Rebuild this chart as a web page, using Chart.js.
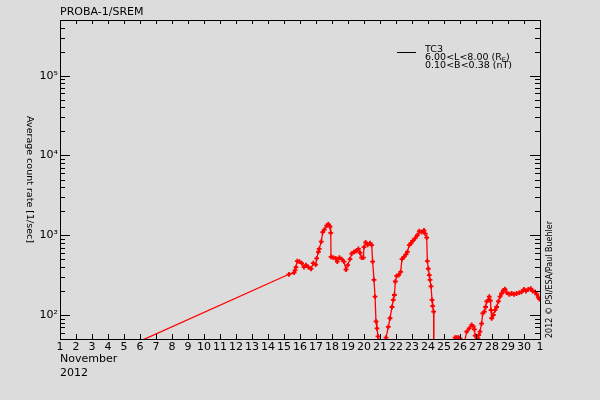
<!DOCTYPE html>
<html>
<head>
<meta charset="utf-8">
<script src="https://cdn.jsdelivr.net/npm/chart.js@4/dist/chart.umd.min.js"></script>
<style>
  html, body { margin: 0; padding: 0; background: #dcdcdc; }
  #wrap { width: 600px; height: 400px; }
</style>
</head>
<body>
<div id="wrap"><canvas id="sremChart" width="600" height="400"></canvas></div>
<script>
// day of month (November 2012, fractional) and average count rate [1/sec], channel TC3
var days = [6.0, 15.31, 15.63, 15.69, 15.75, 15.83, 15.96, 16.1, 16.25, 16.375, 16.52, 16.69, 16.83, 16.98,
    17.04, 17.15, 17.2, 17.33, 17.42, 17.52, 17.67, 17.77, 17.875, 17.92, 17.94, 18.08, 18.23, 18.33,
    18.46, 18.6, 18.75, 18.875, 18.98, 19.125, 19.23, 19.375, 19.5, 19.65, 19.75, 19.85, 19.96, 20.0,
    20.1, 20.23, 20.375, 20.48, 20.54, 20.625, 20.69, 20.75, 20.81, 20.875, 20.92, 21.25, 21.375, 21.52,
    21.625, 21.75, 21.83, 21.9, 21.96, 22.04, 22.17, 22.29, 22.375, 22.5, 22.625, 22.71, 22.83, 22.94,
    23.04, 23.19, 23.33, 23.46, 23.6, 23.75, 23.83, 23.92, 23.96, 24.02, 24.08, 24.125, 24.19, 24.25,
    24.29, 24.35, 24.37, 25.6, 25.69, 25.8, 25.9, 26.0, 26.05, 26.2, 26.42, 26.58, 26.73, 26.83, 26.9,
    26.95, 27.02, 27.12, 27.17, 27.25, 27.35, 27.42, 27.52, 27.6, 27.67, 27.77, 27.83, 27.9, 27.94,
    27.98, 28.08, 28.19, 28.29, 28.4, 28.5, 28.6, 28.71, 28.81, 28.92, 29.08, 29.23, 29.375, 29.54,
    29.71, 29.85, 30.0, 30.125, 30.27, 30.42, 30.54, 30.69, 30.79, 30.9, 30.96];
var rate = [47, 324, 340, 363, 398, 473, 468, 447, 398, 422, 398, 380, 447, 427,
    513, 617, 676, 832, 1096, 1175, 1318, 1380, 1288, 1072, 537, 525, 513, 468,
    525, 501, 468, 372, 422, 501, 589, 617, 631, 676, 603, 525, 525, 708,
    813, 759, 794, 750, 468, 275, 170, 83, 68, 54, 35, 38, 52, 71,
    91, 126, 155, 178, 263, 309, 316, 347, 501, 537, 575, 617, 750, 794,
    851, 912, 1000, 1122, 1096, 1148, 1047, 933, 473, 380, 316, 275, 229, 155,
    129, 110, 5, 40, 52, 52, 52, 51, 35, 38, 62, 68, 75, 72, 66,
    55, 38, 51, 56, 62, 78, 105, 110, 126, 148, 155, 170, 151, 115,
    91, 100, 115, 126, 148, 170, 186, 204, 211, 191, 182, 186, 182, 186,
    191, 195, 209, 200, 209, 214, 200, 195, 182, 166, 158];

var xTickLabels = ['1', '2', '3', '4', '5', '6', '7', '8', '9', '10', '11', '12', '13', '14', '15',
    '16', '17', '18', '19', '20', '21', '22', '23', '24', '25', '26', '27', '28', '29', '30', '1'];
var yDecades = [100, 1000, 10000, 100000];
var yTickLabels = ['10²', '10³', '10⁴', '10⁵'];

var fontFamily = "'DejaVu Sans', sans-serif";

var points = days.map(function (d, i) { return { x: d, y: rate[i] }; });

// all log ticks (2..9 x decade) inside the axis range
function logTickValues(min, max) {
    var vals = [];
    for (var e = Math.floor(Math.log10(min)); e <= Math.ceil(Math.log10(max)); e++) {
        for (var s = 1; s <= 9; s++) {
            var v = s * Math.pow(10, e);
            if (v >= min && v <= max) vals.push(v);
        }
    }
    return vals;
}

var frameAndText = {
    id: 'frameAndText',
    beforeDraw: function (chart) {
        var ctx = chart.ctx;
        ctx.save();
        ctx.fillStyle = '#dcdcdc';
        ctx.fillRect(0, 0, chart.width, chart.height);
        ctx.restore();
    },
    afterDraw: function (chart) {
        var ctx = chart.ctx;
        var a = chart.chartArea;
        var xs = chart.scales.x, ys = chart.scales.y;
        ctx.save();
        ctx.strokeStyle = '#000';
        ctx.lineWidth = 1;
        ctx.strokeRect(Math.round(a.left) + 0.5, Math.round(a.top) + 0.5,
            Math.round(a.right - a.left), Math.round(a.bottom - a.top));

        // inward ticks, bottom and top
        ctx.beginPath();
        xs.ticks.forEach(function (t) {
            var px = Math.round(xs.getPixelForValue(t.value)) + 0.5;
            ctx.moveTo(px, a.bottom); ctx.lineTo(px, a.bottom - 5);
            ctx.moveTo(px, a.top); ctx.lineTo(px, a.top + 4);
        });
        // inward ticks, left and right
        ys.ticks.forEach(function (t) {
            var major = yDecades.indexOf(t.value) >= 0;
            var len = major ? 10 : 5;
            var py = Math.round(ys.getPixelForValue(t.value)) + 0.5;
            ctx.moveTo(a.left, py); ctx.lineTo(a.left + len, py);
            ctx.moveTo(a.right, py); ctx.lineTo(a.right - len, py);
        });
        ctx.stroke();

        ctx.fillStyle = '#000';
        ctx.textBaseline = 'alphabetic';

        // title
        ctx.font = '11px ' + fontFamily;
        ctx.textAlign = 'left';
        ctx.fillText('PROBA-1/SREM', a.left, 15);

        // date caption under the x axis
        ctx.fillText('November', a.left, 362);
        ctx.fillText('2012', a.left, 376);

        // y axis title, reading top to bottom
        ctx.save();
        ctx.translate(27, (a.top + a.bottom) / 2);
        ctx.rotate(Math.PI / 2);
        ctx.textAlign = 'center';
        ctx.font = '9.5px ' + fontFamily;
        ctx.fillText('Average count rate [1/sec]', 0, 0);
        ctx.restore();

        // credit on the right, reading bottom to top
        ctx.save();
        ctx.translate(552, a.bottom - 1);
        ctx.rotate(-Math.PI / 2);
        ctx.textAlign = 'left';
        ctx.font = '8px ' + fontFamily;
        ctx.fillText('2012 © PSI/ESA/Paul Buehler', 0, 0);
        ctx.restore();

        // legend
        ctx.beginPath();
        ctx.moveTo(397, 52.5); ctx.lineTo(416, 52.5);
        ctx.stroke();
        ctx.font = '9.5px ' + fontFamily;
        ctx.textAlign = 'left';
        ctx.fillText('TC3', 425, 52);
        var l2 = '6.00<L<8.00 (R';
        ctx.fillText(l2, 425, 60);
        var w2 = ctx.measureText(l2).width;
        ctx.font = '6.5px ' + fontFamily;
        ctx.fillText('E', 425 + w2, 62);
        var we = ctx.measureText('E').width;
        ctx.font = '9.5px ' + fontFamily;
        ctx.fillText(')', 425 + w2 + we, 60);
        ctx.fillText('0.10<B<0.38 (nT)', 425, 68);
        ctx.restore();
    }
};

new Chart(document.getElementById('sremChart').getContext('2d'), {
    type: 'line',
    data: {
        datasets: [{
            data: points,
            borderColor: '#ff0000',
            borderWidth: 1.3,
            pointStyle: 'cross',
            pointRadius: 2.4,
            pointBorderWidth: 1.8,
            pointBorderColor: '#ff0000',
            pointBackgroundColor: '#ff0000',
            tension: 0,
            clip: 0
        }]
    },
    options: {
        responsive: false,
        animation: false,
        devicePixelRatio: 1,
        layout: { padding: { top: 20, right: 60, left: 0, bottom: 0 } },
        plugins: {
            legend: { display: false },
            tooltip: { enabled: false },
            title: { display: false }
        },
        scales: {
            x: {
                type: 'linear',
                min: 1,
                max: 31,
                afterBuildTicks: function (scale) {
                    scale.ticks = xTickLabels.map(function (l, i) { return { value: i + 1 }; });
                },
                afterFit: function (scale) { scale.height = 61; },
                ticks: {
                    autoSkip: false,
                    maxRotation: 0,
                    padding: 2,
                    color: '#000',
                    font: { family: fontFamily, size: 11 },
                    callback: function (v, i) { return xTickLabels[i]; }
                },
                grid: { display: false, drawTicks: false },
                border: { display: false }
            },
            y: {
                type: 'logarithmic',
                min: 50,
                max: 500000,
                afterBuildTicks: function (scale) {
                    scale.ticks = logTickValues(50, 500000).map(function (v) { return { value: v }; });
                },
                afterFit: function (scale) { scale.width = 60; },
                ticks: {
                    autoSkip: false,
                    padding: 2,
                    color: '#000',
                    font: { family: fontFamily, size: 11 },
                    callback: function (v) {
                        var k = yDecades.indexOf(v);
                        return k >= 0 ? yTickLabels[k] : '';
                    }
                },
                grid: { display: false, drawTicks: false },
                border: { display: false }
            }
        }
    },
    plugins: [frameAndText]
});
</script>
</body>
</html>
